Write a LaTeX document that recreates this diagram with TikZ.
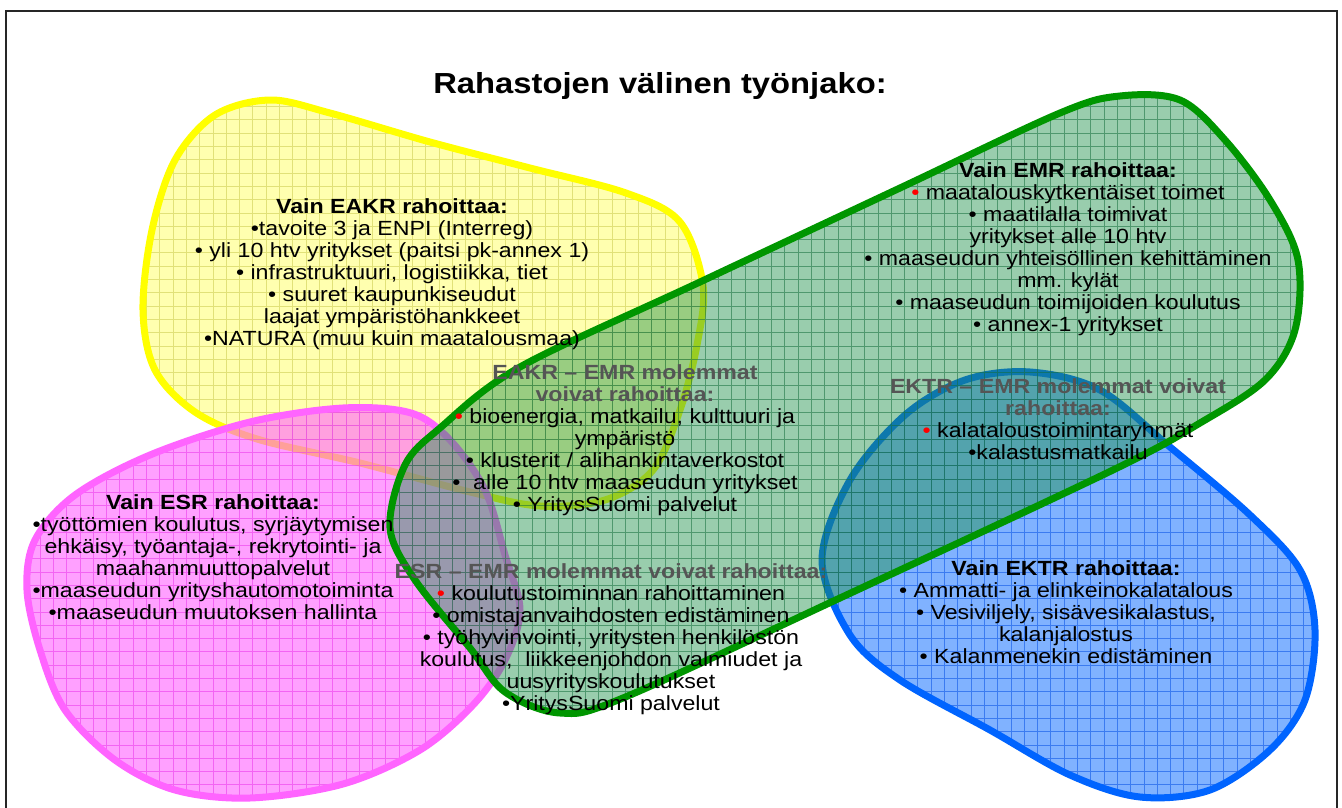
\documentclass[tikz,border=0pt]{standalone}
\usepackage{fontspec}
\setmainfont{Liberation Sans}[FakeStretch=1.13]
\definecolor{yline}{RGB}{255,255,0}
\definecolor{yfill}{RGB}{255,255,175}
\definecolor{ygrid}{RGB}{225,225,120}
\definecolor{pline}{RGB}{255,100,255}
\definecolor{pfill}{RGB}{255,97,255}
\definecolor{pgrid}{RGB}{235,60,235}
\definecolor{bline}{RGB}{0,100,255}
\definecolor{bfill}{RGB}{128,178,255}
\definecolor{bgrid}{RGB}{30,100,235}
\definecolor{gline}{RGB}{0,150,0}
\definecolor{gfill}{RGB}{30,145,75}
\definecolor{ggrid}{RGB}{20,110,60}
\definecolor{hdgray}{RGB}{85,85,85}
\newcommand\bodyfont{\fontsize{20.5}{22}\selectfont}
\newcommand\rb{\textcolor{red}{•}}
\tikzset{
  blocktext/.style={align=center, inner sep=0pt, font=\bodyfont, text=black},
  outline/.style={line width=7pt, line join=round},
  gridlines/.style={line width=0.6pt, step=13.3pt},
}
\def\pathY{plot[smooth cycle,tension=0.55] coordinates {(175,160) (215,115) (270,100) (330,113) (430,142) (530,168) (626,193) (680,222) (703,285) (697,345) (680,410) (653,470) (605,500) (540,506) (470,492) (360,463) (257,439) (195,412) (155,370) (143,310) (152,230)}}
\def\pathP{plot[smooth cycle,tension=0.55] coordinates {(343,408) (411,413) (450,440) (485,490) (505,555) (520,610) (505,660) (473,705) (420,750) (343,784) (250,798) (175,790) (115,760) (65,710) (40,650) (27,590) (35,540) (75,495) (150,455) (250,422)}}
\def\pathB{plot[smooth cycle,tension=0.55] coordinates {(822,560) (850,480) (905,415) (965,380) (1030,372) (1100,390) (1170,447) (1250,515) (1300,570) (1315,630) (1305,700) (1270,750) (1210,790) (1140,797) (1070,775) (990,730) (900,680) (850,635)}}
\def\pathG{plot[smooth cycle,tension=0.55] coordinates {(390,528) (405,465) (440,428) (520,367) (700,282) (900,188) (1060,113) (1120,96) (1180,100) (1225,140) (1270,200) (1298,260) (1295,330) (1265,380) (1200,423) (1113,470) (840,598) (623,698) (560,713) (505,692) (470,648) (415,580)}}
\begin{document}
\begin{tikzpicture}[x=1pt,y=-1pt]
\useasboundingbox (0,0) rectangle (1342,808);
\fill[white] (0,0) rectangle (1342,808);
% frame
\draw[line width=2.5pt, black!85] (6,810) -- (6,11) -- (1337,11) -- (1337,810);
% yellow (EAKR)
\fill[yfill] \pathY;
\begin{scope}\clip \pathY;
\draw[ygrid, gridlines] (0,808) grid (1342,0);
\end{scope}
\draw[yline, outline] \pathY;
% pink (ESR)
\fill[pfill, opacity=0.6] \pathP;
\begin{scope}\clip \pathP;
\draw[pgrid, gridlines, opacity=0.6] (0,808) grid (1342,0);
\end{scope}
\draw[pline, outline] \pathP;
% blue (EKTR)
\fill[bfill] \pathB;
\begin{scope}\clip \pathB;
\draw[bgrid, gridlines, opacity=0.7] (0,808) grid (1342,0);
\end{scope}
\draw[bline, outline] \pathB;
% green (EMR)
\fill[gfill, opacity=0.45] \pathG;
\begin{scope}\clip \pathG;
\draw[ggrid, gridlines, opacity=0.55] (0,808) grid (1342,0);
\end{scope}
\draw[gline, outline] \pathG;
% texts
\node[font=\fontsize{29}{33}\selectfont\bfseries, inner sep=0pt] (title) at (660,86) {Rahastojen välinen työnjako:};
\node[blocktext] (eakr) at (392,274) {\textbf{Vain EAKR rahoittaa:}\\ •tavoite 3 ja ENPI (Interreg)\\ • yli 10 htv yritykset (paitsi pk-annex 1)\\ • infrastruktuuri, logistiikka, tiet\\ • suuret kaupunkiseudut\\ laajat ympäristöhankkeet\\ •NATURA (muu kuin maatalousmaa)};
\node[blocktext] (emr) at (1068,249) {\textbf{Vain EMR rahoittaa:}\\ \rb{} maatalouskytkentäiset toimet\\ • maatilalla toimivat\\ yritykset alle 10 htv\\ • maaseudun yhteisöllinen kehittäminen\\ mm. kylät\\ • maaseudun toimijoiden koulutus\\ • annex-1 yritykset};
\node[blocktext] (eakremr) at (625,440) {\textcolor{hdgray}{\textbf{EAKR – EMR molemmat}}\\ \textcolor{hdgray}{\textbf{voivat rahoittaa:}}\\ \rb{} bioenergia, matkailu, kulttuuri ja\\ ympäristö\\ • klusterit / alihankintaverkostot\\ •\ \ alle 10 htv maaseudun yritykset\\ • YritysSuomi palvelut};
\node[blocktext] (ektremr) at (1058,419) {\textcolor{hdgray}{\textbf{EKTR – EMR molemmat voivat}}\\ \textcolor{hdgray}{\textbf{rahoittaa:}}\\ \rb{} kalataloustoimintaryhmät\\ •kalastusmatkailu};
\node[blocktext] (esr) at (213,557) {\textbf{Vain ESR rahoittaa:}\\ •työttömien koulutus, syrjäytymisen\\ ehkäisy, työantaja-, rekrytointi- ja\\ maahanmuuttopalvelut\\ •maaseudun yrityshautomotoiminta\\ •maaseudun muutoksen hallinta};
\node[blocktext] (esremr) at (611,639) {\textcolor{hdgray}{\textbf{ESR – EMR molemmat voivat rahoittaa:}}\\ \rb{} koulutustoiminnan rahoittaminen\\ • omistajanvaihdosten edistäminen\\ • työhyvinvointi, yritysten henkilöstön\\ koulutus,\ \ liikkeenjohdon valmiudet ja\\ uusyrityskoulutukset\\ •YritysSuomi palvelut};
\node[blocktext] (ektr) at (1066,612) {\textbf{Vain EKTR rahoittaa:}\\ • Ammatti- ja elinkeinokalatalous\\ • Vesiviljely, sisävesikalastus,\\ kalanjalostus\\ • Kalanmenekin edistäminen};
\end{tikzpicture}
\end{document}
